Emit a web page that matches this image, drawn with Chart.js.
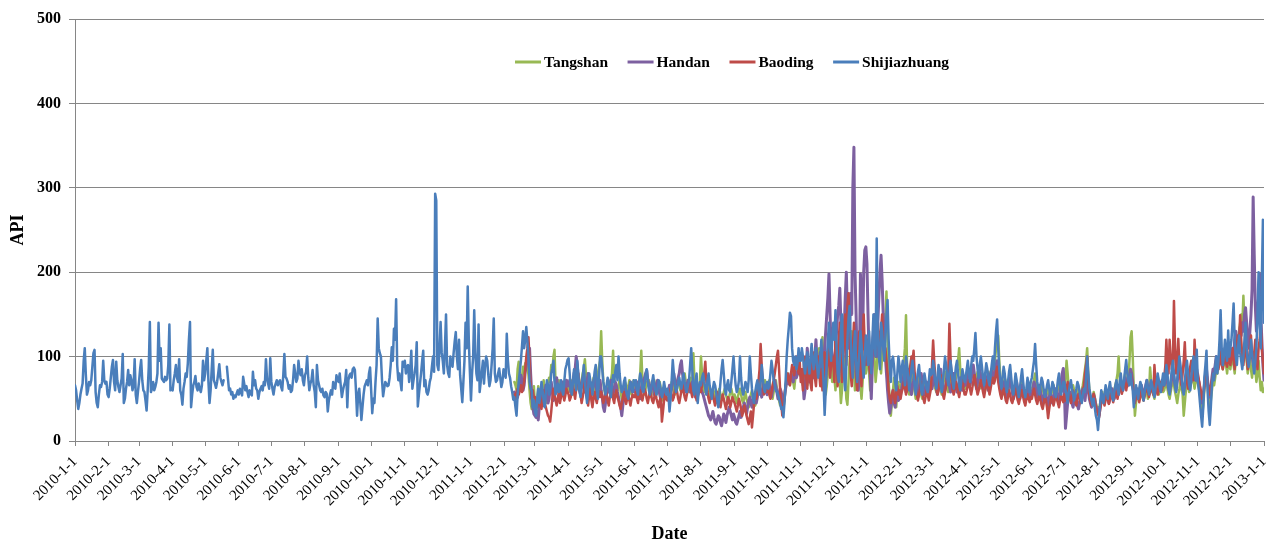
<!DOCTYPE html>
<html>
<head>
<meta charset="utf-8">
<title>API</title>
<script src="https://cdn.jsdelivr.net/npm/chart.js@4.4.0/dist/chart.umd.min.js"></script>
<style>
  html, body { margin: 0; padding: 0; background: #ffffff; }
  #wrap { width: 1268px; height: 542px; }
</style>
</head>
<body>
<div id="wrap"><canvas id="chart" width="1268" height="542"></canvas></div>
<script>
// Daily API values, one inner array per calendar month.
// Shijiazhuang starts 2010-01-01; the other three cities start 2011-02-10.
// The December 2012 arrays also carry 2013-01-01 as their last value.

const shijiazhuang2010 = [
  [66,60,48,38,45,55,62,68,95,110,78,55,60,70,66,72,88,104,108,58,45,40,55,66,64,70,95,72,68,70,55],
  [52,62,75,88,96,70,60,94,72,64,58,66,74,103,45,50,62,70,84,66,78,72,60,66,97,55,45,58],
  [70,85,96,72,60,58,48,36,60,88,141,58,62,70,60,64,70,80,140,95,110,74,72,70,76,72,74,90,138,60,62],
  [60,72,80,90,75,70,97,60,55,43,62,70,80,76,92,120,141,40,55,66,70,77,64,60,68,62,58,66,95,72],
  [80,95,110,70,45,60,85,108,72,68,63,70,80,91,75,70,66,72,null,null,88,74,60,62,55,58,50,54,52,56,60],
  [55,62,58,54,76,68,60,65,58,52,60,56,54,82,66,72,62,60,50,58,62,65,60,70,66,97,74,68,62,98],
  [70,62,55,64,68,72,66,70,72,64,60,78,103,76,74,70,62,66,58,60,72,90,80,70,74,95,82,78,85,72,66],
  [78,82,100,75,60,68,72,84,66,58,40,90,72,66,60,58,62,54,52,58,56,35,48,55,60,55,70,64,62,78,72],
  [70,80,65,52,60,66,70,84,40,72,78,80,75,85,87,84,60,30,55,62,45,25,40,55,65,68,72,66,80,87],
  [60,33,50,45,70,90,145,110,104,100,72,53,62,70,68,65,66,75,90,111,95,133,120,168,90,72,80,70,60,94,88],
  [95,80,88,90,70,82,107,62,72,80,90,117,41,55,68,80,95,107,65,72,58,55,60,70,75,88,100,82,293,285],
  [90,84,110,141,105,95,80,110,150,90,80,76,100,92,88,104,118,129,100,85,120,78,62,46,70,95,140,110,183,120,82]
];
const shijiazhuang2011 = [
  [48,80,100,155,105,80,72,138,58,70,82,95,68,88,100,95,78,65,72,90,110,145,80,70,72,80,86,75,64,70,85],
  [80,75,127,96,80,75,65,58,49,52,40,30,55,70,82,95,112,130,110,120,135,118,100,70,62,60,40,48],
  [35,30,50,62,45,55,70,60,48,40,58,72,66,55,62,80,86,95,70,55,62,68,58,64,72,60,55,70,85,90,96],
  [98,80,62,55,70,85,72,60,95,78,60,52,66,75,90,70,58,45,62,80,72,66,55,70,82,90,66,50,75,100],
  [100,85,70,62,55,66,75,70,58,52,66,78,70,82,90,72,100,80,66,58,62,70,75,60,55,50,62,70,66,58,72],
  [66,72,60,55,70,80,75,62,58,66,78,85,72,60,55,62,70,78,66,60,55,62,72,68,60,52,60,70,62,55],
  [62,55,35,50,72,96,80,66,58,62,70,75,66,62,72,80,70,62,58,66,72,90,110,85,60,55,72,80,45,60,70],
  [66,75,80,70,62,55,72,80,66,58,50,62,70,66,58,48,40,55,70,85,96,80,62,55,66,72,60,58,70,85,100],
  [80,66,58,62,72,100,75,60,55,62,70,66,58,72,100,80,62,50,45,58,66,72,60,55,70,90,75,62,58,66],
  [70,62,66,80,95,85,72,66,60,58,55,50,45,38,40,28,45,70,100,120,135,152,148,110,95,90,100,85,92,110,95],
  [95,110,100,88,80,95,105,90,80,100,115,95,85,100,110,90,75,85,100,120,90,70,31,60,95,120,140,110,95,120],
  [140,120,155,110,80,70,95,130,150,100,75,60,90,120,145,160,120,90,75,110,130,95,70,85,105,130,115,90,75,100,125]
];
const shijiazhuang2012 = [
  [110,90,130,100,80,120,150,110,100,240,123,100,85,140,130,110,95,120,150,167,120,90,70,95,100,88,70,60,80,100,90],
  [70,85,95,80,66,100,90,75,60,72,85,95,80,66,55,70,82,90,75,60,55,68,80,72,62,58,70,85,78],
  [80,95,85,70,62,75,90,80,66,58,72,85,100,90,75,66,80,95,85,70,62,75,88,95,80,66,60,72,85,78,70],
  [75,85,95,80,70,88,100,95,110,128,100,85,75,90,100,88,75,66,80,92,85,72,66,78,90,100,85,110,130,144],
  [110,85,70,62,75,88,80,66,58,70,82,90,75,62,55,66,80,72,60,52,62,75,85,70,58,52,62,75,66,58,70],
  [75,85,95,115,90,70,62,55,66,75,70,60,52,58,66,72,62,55,60,70,66,58,52,60,72,80,66,55,62,70],
  [70,60,55,45,58,66,72,62,55,48,55,62,70,66,58,50,45,55,62,58,75,100,80,62,55,48,42,50,40,30,25],
  [13,30,45,60,52,45,55,66,58,50,62,70,60,52,48,58,66,72,62,55,70,80,66,60,72,85,96,80,70,66,80],
  [70,60,40,55,66,58,50,62,70,66,55,48,58,66,72,62,55,62,72,66,58,52,62,70,80,72,62,58,70,80],
  [66,75,90,80,62,55,70,85,95,80,66,58,72,85,100,90,75,62,55,70,85,95,80,66,60,75,90,100,85,72,108],
  [70,60,45,30,17,40,75,90,107,60,35,19,40,66,80,72,88,100,80,95,120,155,110,90,100,120,105,95,131,100],
  [110,120,140,163,120,100,90,110,125,105,95,85,100,120,140,110,95,88,100,120,105,90,80,95,110,150,200,140,110,190,262,140]
];

const tangshan2011 = [
  [70,66,60,85,94,72,60,75,88,80,92,84,90,78,60,45,38,52,65],
  [40,29,45,65,58,48,50,62,72,55,45,60,68,75,70,90,82,100,108,66,58,60,72,66,55,62,70,58,64,72,66],
  [58,66,72,60,55,70,80,75,62,70,66,58,72,80,86,97,78,65,58,70,62,55,68,75,62,55,70,80,88,95],
  [130,95,70,60,55,52,66,62,58,72,80,107,75,62,55,60,66,72,58,50,55,62,70,66,58,64,72,60,55,66,72],
  [62,70,55,60,66,80,107,72,60,55,62,70,66,72,58,52,60,66,72,62,55,58,66,70,62,50,48,55,60,58],
  [60,55,50,62,70,66,58,55,62,70,75,66,60,58,66,72,80,70,62,58,66,75,62,70,104,72,66,72,62,58,70],
  [100,80,66,58,62,55,60,66,58,52,55,62,58,50,45,52,58,62,55,48,52,58,62,55,50,45,52,58,62,55,50],
  [55,50,45,52,58,62,55,48,45,52,58,50,45,40,48,55,60,52,45,42,50,58,66,72,62,55,60,66,72,62],
  [60,66,72,62,55,50,58,66,72,62,55,48,42,50,45,38,50,62,72,80,75,66,72,80,70,62,75,82,90,85,78],
  [80,70,66,75,85,72,66,80,90,75,70,85,95,80,72,90,100,110,95,85,123,90,70,55,66,80,95,110,85,70],
  [90,75,60,80,95,110,70,45,60,85,100,75,50,43,70,95,120,130,100,80,60,75,90,110,85,65,50,70,90,105,80]
];
const tangshan2012 = [
  [90,110,80,60,75,100,130,95,70,85,110,120,95,80,100,130,150,140,177,120,70,50,30,45,60,75,55,40,60,70,55],
  [60,72,80,95,110,149,90,70,55,62,75,80,66,58,50,62,70,78,66,55,50,60,72,66,58,55,62,70,75],
  [66,75,70,62,58,66,80,72,60,55,62,75,82,70,62,58,66,72,80,70,62,68,75,85,95,110,85,70,62,72,66],
  [62,70,78,72,66,75,85,80,72,66,75,82,70,62,70,80,75,66,60,68,75,82,72,66,75,85,90,95,110,120],
  [125,95,75,62,55,66,75,70,60,55,62,72,66,58,52,60,70,66,55,50,58,66,72,62,55,50,58,66,60,55,62],
  [60,66,72,80,70,62,55,52,60,66,62,55,50,55,62,58,52,48,55,62,66,58,52,55,62,70,66,58,62,72],
  [66,72,95,80,62,55,50,58,66,60,52,48,55,62,58,52,60,66,75,85,95,110,80,60,52,45,50,58,52,45,40],
  [40,35,45,52,58,50,45,52,60,55,48,55,62,58,52,60,66,72,80,100,75,62,58,66,72,80,70,66,75,95,123],
  [130,100,60,30,45,55,50,58,66,60,52,48,55,62,58,50,55,87,70,60,55,50,58,66,60,55,62,70,66,58],
  [60,66,72,62,55,50,58,66,75,66,58,52,45,55,62,70,62,55,30,45,60,72,66,58,62,70,80,72,62,70,85],
  [70,62,55,45,30,42,60,72,80,66,50,35,48,60,72,66,75,85,80,90,100,110,95,85,92,100,90,80,95,88],
  [85,95,105,90,80,100,115,120,130,140,150,135,172,140,110,95,80,90,100,85,75,90,100,85,70,80,95,75,60,70,58,62]
];

const handan2011 = [
  [58,55,50,52,62,70,78,72,60,66,82,90,95,100,110,80,55,40,32],
  [30,28,35,25,40,52,60,48,42,55,66,58,45,50,62,70,58,48,55,68,75,62,58,52,60,70,66,55,60,72,65],
  [66,72,58,62,70,80,85,100,90,72,60,55,68,75,66,58,62,70,80,72,60,55,62,70,75,66,58,62,70,72],
  [60,52,40,35,45,55,62,58,66,72,60,55,62,70,66,58,52,45,40,30,42,55,62,58,50,55,62,70,66,58,60],
  [58,62,70,66,55,50,62,72,68,75,80,84,72,66,58,62,70,66,55,60,68,72,62,55,50,58,62,55,50,58],
  [55,60,66,58,62,72,80,70,62,68,75,80,90,95,80,70,62,58,66,72,65,58,62,70,66,58,52,60,55,62,66],
  [62,58,55,50,45,40,35,30,28,25,30,35,28,22,20,25,30,28,22,18,25,32,28,22,30,35,40,35,30,25,32],
  [28,22,20,25,30,35,28,35,40,45,38,32,40,48,52,45,40,48,55,50,45,52,60,66,58,52,60,66,62,58],
  [55,62,66,58,52,60,66,72,65,58,50,55,62,58,50,45,52,62,70,75,68,72,80,75,70,78,82,75,80,85,80],
  [80,75,70,50,60,85,110,90,70,80,95,85,75,100,120,95,80,90,105,85,75,90,110,130,150,170,198,150,110,100],
  [100,90,110,130,150,160,181,140,120,100,130,170,200,150,110,130,175,150,300,348,200,150,90,60,80,198,160,120,200,226,230]
];
const handan2012 = [
  [210,150,100,80,50,90,130,150,120,100,140,170,200,220,190,150,120,100,80,60,45,33,40,50,60,45,40,55,62,48,50],
  [55,62,70,78,66,58,72,85,75,62,55,66,72,80,68,58,52,60,72,80,70,58,55,62,70,66,58,62,68],
  [62,70,80,72,62,55,66,78,85,72,62,55,62,70,80,72,65,58,62,72,80,75,66,58,62,70,75,68,60,66,72],
  [66,72,80,75,66,72,82,90,80,70,62,70,78,85,75,66,62,70,78,72,66,60,70,80,85,78,70,80,90,95],
  [80,72,62,55,60,70,66,58,52,60,70,75,66,58,50,55,62,70,62,55,50,58,66,60,52,48,55,62,58,52,58],
  [55,62,70,66,58,52,60,66,58,50,45,52,60,55,48,42,50,58,52,45,50,58,62,55,48,52,60,70,80,86],
  [60,15,30,45,52,58,50,45,40,48,55,50,42,38,45,52,58,62,55,48,60,75,62,50,45,40,48,55,50,42,38],
  [35,30,40,48,55,50,45,52,58,52,45,50,58,62,55,50,58,66,60,55,62,70,66,60,68,75,70,65,72,78,85],
  [80,70,55,48,55,62,58,50,58,66,60,52,58,66,72,62,55,62,70,66,58,55,62,70,75,66,60,65,72,68],
  [66,72,80,70,62,58,66,75,85,75,66,60,70,80,90,80,70,62,58,66,75,85,78,70,66,72,82,90,80,72,85],
  [75,70,62,55,45,52,66,78,85,72,60,52,62,75,85,80,90,100,95,88,100,110,95,90,100,110,100,95,105,98],
  [95,105,110,100,120,130,115,105,120,135,125,140,130,150,158,140,120,110,130,150,180,289,220,160,130,150,170,198,150,120,90,72]
];

const baoding2011 = [
  [55,50,58,62,55,60,66,58,62,70,85,100,110,123,95,65,50,60,52],
  [52,45,40,48,55,42,38,50,60,45,40,35,30,28,23,35,50,62,55,48,42,50,58,45,52,60,55,48,54,62,58],
  [55,48,52,60,66,58,50,62,72,80,66,55,45,52,60,70,58,50,42,55,62,48,40,52,58,50,45,55,60,52],
  [58,52,45,50,60,55,48,42,52,58,62,50,45,55,60,52,48,42,38,45,52,58,48,44,50,55,48,42,50,55,52],
  [52,58,50,45,55,60,52,48,55,62,58,50,45,52,60,55,48,45,52,58,50,45,40,48,52,23,35,48,55,50],
  [48,52,58,62,55,48,52,60,66,58,50,45,52,60,66,58,52,48,55,62,70,66,58,52,60,66,55,48,52,58,62],
  [58,66,72,80,94,70,58,50,45,52,60,55,48,42,50,58,52,45,40,48,55,50,44,38,45,52,48,40,46,52,48],
  [45,40,35,42,50,45,38,30,35,42,38,30,25,20,28,35,16,30,45,55,50,60,70,85,115,90,66,55,62,58],
  [58,62,55,50,58,66,72,80,90,100,107,85,60,45,30,40,55,66,75,80,72,66,80,90,85,78,92,100,88,80,95],
  [70,85,60,95,100,75,62,95,80,68,60,92,105,75,65,90,100,80,65,85,60,95,105,70,85,100,110,75,90,100],
  [95,70,130,100,65,120,140,90,70,100,130,150,90,160,175,130,80,65,110,140,100,75,60,110,130,80,65,120,150,110,90]
];
const baoding2012 = [
  [120,100,90,80,95,110,130,115,100,120,140,125,105,130,150,120,100,110,95,80,60,50,45,55,60,52,45,58,65,55,60],
  [50,58,62,70,66,55,60,72,80,90,100,95,107,80,62,55,48,55,62,70,58,50,45,52,60,55,48,55,62],
  [90,119,95,75,62,55,60,70,78,66,55,50,58,66,75,85,139,100,72,60,55,62,70,66,58,52,60,68,75,62,55],
  [55,60,66,72,62,55,62,70,78,70,62,55,60,66,72,65,58,52,60,66,72,62,55,62,70,75,68,72,80,88],
  [70,62,55,50,58,62,55,48,45,52,60,55,48,45,50,58,62,55,48,44,50,56,60,52,46,42,50,55,50,46,52],
  [50,56,62,55,48,44,50,55,48,42,38,45,52,48,40,27,38,46,52,48,42,48,55,50,45,40,48,55,50,46],
  [55,48,62,70,58,50,45,52,60,55,48,42,50,56,52,45,50,58,66,80,90,100,72,55,48,42,50,56,48,40,35],
  [32,28,38,45,52,48,42,50,56,50,44,50,56,52,46,52,60,55,50,58,66,62,56,62,70,66,60,68,75,72,80],
  [75,66,52,45,52,58,52,46,52,60,55,48,54,60,66,58,52,58,66,60,55,90,70,60,55,62,70,66,60,68],
  [75,88,120,90,80,120,100,85,90,166,110,80,95,121,90,72,66,80,95,117,85,70,62,75,88,95,80,72,120,95,80],
  [80,72,65,58,50,55,66,75,80,70,60,55,62,72,80,75,85,95,90,85,95,105,90,85,95,100,92,88,100,95],
  [90,100,110,95,85,100,115,125,110,149,120,100,90,105,120,100,85,95,110,125,100,90,105,120,100,85,110,120,139,110,95,80]
];

const cityNames = ['Tangshan', 'Handan', 'Baoding', 'Shijiazhuang'];
const cityColors = ['#98B954', '#7D60A0', '#BE4B48', '#4A7EBB'];

const monthTickLabels = [
  '2010-1-1','2010-2-1','2010-3-1','2010-4-1','2010-5-1','2010-6-1','2010-7-1','2010-8-1','2010-9-1','2010-10-1','2010-11-1','2010-12-1',
  '2011-1-1','2011-2-1','2011-3-1','2011-4-1','2011-5-1','2011-6-1','2011-7-1','2011-8-1','2011-9-1','2011-10-1','2011-11-1','2011-12-1',
  '2012-1-1','2012-2-1','2012-3-1','2012-4-1','2012-5-1','2012-6-1','2012-7-1','2012-8-1','2012-9-1','2012-10-1','2012-11-1','2012-12-1',
  '2013-1-1'
];

// ---- helpers: calendar day -> day number counted from 2010-01-01 ----
const DAY_MS = 86400000;
const ORIGIN = Date.UTC(2010, 0, 1);
function dayNumber(y, m, d) { return (Date.UTC(y, m, d) - ORIGIN) / DAY_MS; }
function labelToDay(s) { const p = s.split('-').map(Number); return dayNumber(p[0], p[1] - 1, p[2]); }

function toPoints(months, year, month, firstDay) {
  const pts = [];
  months.forEach((vals, i) => {
    const start = i === 0 ? firstDay : 1;
    vals.forEach((v, k) => pts.push({ x: dayNumber(year, month + i, start + k), y: v }));
  });
  return pts;
}

const seriesPoints = [
  toPoints([...tangshan2011, ...tangshan2012], 2011, 1, 10),
  toPoints([...handan2011, ...handan2012], 2011, 1, 10),
  toPoints([...baoding2011, ...baoding2012], 2011, 1, 10),
  toPoints([...shijiazhuang2010, ...shijiazhuang2011, ...shijiazhuang2012], 2010, 0, 1)
];

const tickDays = monthTickLabels.map(labelToDay);
const tickLabelByDay = {};
tickDays.forEach((d, i) => { tickLabelByDay[d] = monthTickLabels[i]; });

const SERIF = '"Liberation Serif", "Times New Roman", serif';
const AXIS_GREY = '#868686';

// Legend drawn inside the plot area, in series order.
const inlineLegend = {
  id: 'inlineLegend',
  afterDraw(chart) {
    const ctx = chart.ctx;
    ctx.save();
    ctx.font = 'bold 15.5px ' + SERIF;
    ctx.textBaseline = 'middle';
    ctx.textAlign = 'left';
    let x = 515;
    const y = 62;
    chart.data.datasets.forEach((ds) => {
      ctx.strokeStyle = ds.borderColor;
      ctx.lineWidth = 3;
      ctx.beginPath();
      ctx.moveTo(x, y);
      ctx.lineTo(x + 26, y);
      ctx.stroke();
      ctx.fillStyle = '#000000';
      ctx.fillText(ds.label, x + 29, y + 1);
      x += 29 + ctx.measureText(ds.label).width + 19.5;
    });
    ctx.restore();
  }
};

const datasets = cityNames.map((name, i) => ({
  label: name,
  data: seriesPoints[i],
  borderColor: cityColors[i],
  backgroundColor: cityColors[i],
  borderWidth: name === 'Handan' ? 3 : 2.5,
  pointRadius: 0,
  tension: 0,
  spanGaps: false,
  fill: false,
  order: 3 - i
}));

new Chart(document.getElementById('chart'), {
  type: 'line',
  data: { datasets },
  options: {
    responsive: false,
    animation: false,
    events: [],
    layout: { padding: { top: 19, right: 4, left: 0, bottom: 0 } },
    plugins: { legend: { display: false }, tooltip: { enabled: false } },
    elements: { line: { borderJoinStyle: 'round', borderCapStyle: 'round' } },
    scales: {
      x: {
        type: 'linear',
        min: 0,
        max: tickDays[tickDays.length - 1],
        afterBuildTicks(scale) { scale.ticks = tickDays.map(v => ({ value: v })); },
        afterFit(scale) {
          scale.height = 101;
          scale.paddingLeft = 0;
          scale.paddingRight = 0;
        },
        ticks: {
          autoSkip: false,
          minRotation: 45,
          maxRotation: 45,
          padding: 7,
          color: '#000000',
          font: { family: SERIF, size: 15 },
          callback: (v) => tickLabelByDay[v] ?? ''
        },
        grid: { drawOnChartArea: false, drawTicks: true, tickLength: 5, color: AXIS_GREY },
        border: { color: AXIS_GREY, width: 1 },
        title: {
          display: true,
          text: 'Date',
          color: '#000000',
          font: { family: SERIF, size: 18, weight: 'bold', lineHeight: 1 },
          padding: { top: 0, bottom: -1 }
        }
      },
      y: {
        min: 0,
        max: 500,
        afterFit(scale) { scale.width = 75; },
        ticks: {
          stepSize: 100,
          padding: 8,
          color: '#000000',
          font: { family: SERIF, size: 16, weight: 'bold' }
        },
        grid: { color: AXIS_GREY, lineWidth: 1, tickLength: 6 },
        border: { color: AXIS_GREY, width: 1 },
        title: {
          display: true,
          text: 'API',
          color: '#000000',
          font: { family: SERIF, size: 18, weight: 'bold', lineHeight: 1 },
          padding: { top: 9, bottom: 0 }
        }
      }
    }
  },
  plugins: [inlineLegend]
});
</script>
</body>
</html>
